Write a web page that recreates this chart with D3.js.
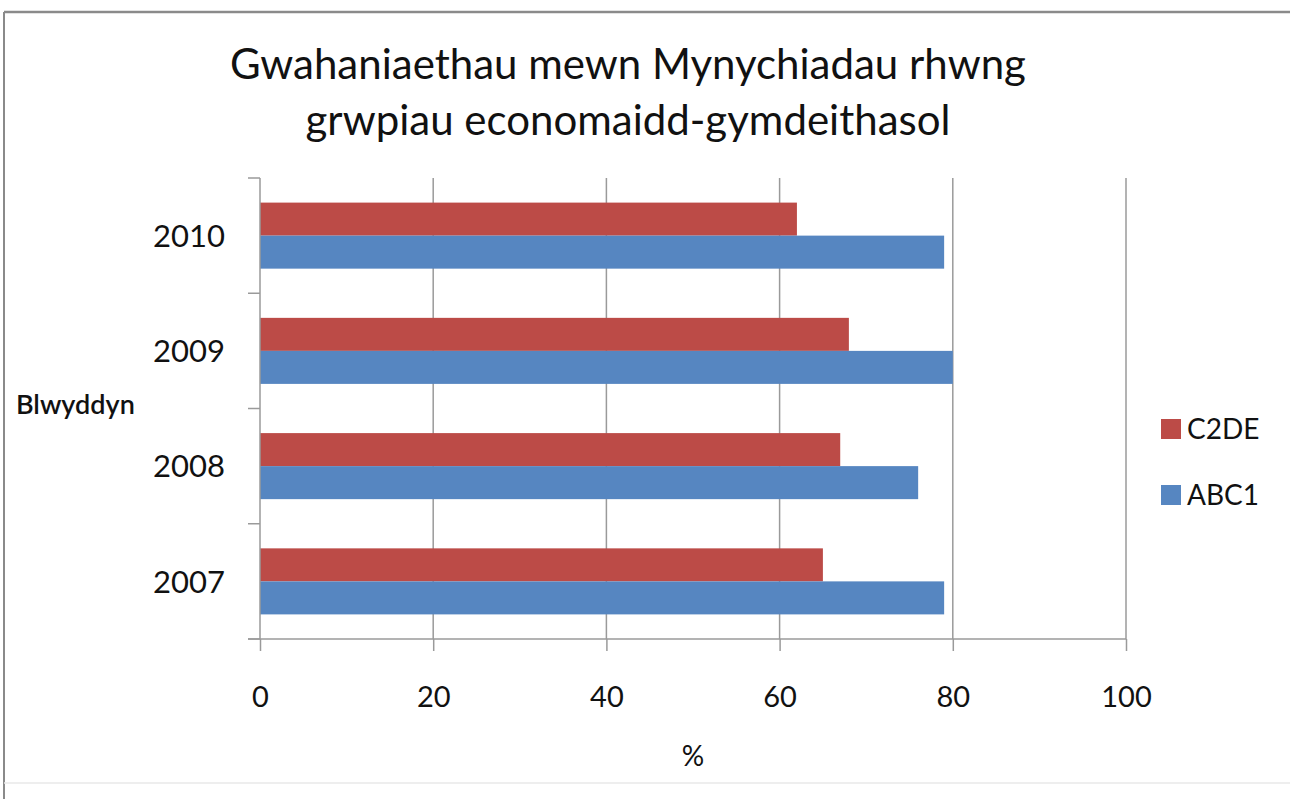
<!DOCTYPE html>
<html>
<head>
<meta charset="utf-8">
<script src="https://cdn.jsdelivr.net/npm/d3@7"></script>
<style>
  body { margin: 0; background: #fff; }
  text { font-family: Lato, "Open Sans", sans-serif; fill: #111; }
</style>
</head>
<body>
<script>
// chart data
var years = ["2010", "2009", "2008", "2007"];
var seriesNames = ["C2DE", "ABC1"];
var c2de = [62, 68, 67, 65];
var abc1 = [79, 80, 76, 79];
var xTicks = [0, 20, 40, 60, 80, 100];
var colors = ["#BC4B47", "#5686C1"];

var titleLines = ["Gwahaniaethau mewn Mynychiadau rhwng", "grwpiau economaidd-gymdeithasol"];

var W = 1290, H = 799;
var margin = {top: 178, right: 164, bottom: 160, left: 260},
    width = W - margin.left - margin.right,
    height = H - margin.top - margin.bottom;

var svg = d3.select("body").append("svg")
    .attr("width", W)
    .attr("height", H);

// outer chart frame (top + left, faint bottom)
svg.append("line").attr("x1", 4).attr("x2", W).attr("y1", 12).attr("y2", 12)
    .attr("stroke", "#8a8a8a").attr("stroke-width", 2.5);
svg.append("line").attr("x1", 4).attr("x2", 4).attr("y1", 12).attr("y2", H)
    .attr("stroke", "#8a8a8a").attr("stroke-width", 2);
svg.append("line").attr("x1", 4).attr("x2", W).attr("y1", 783).attr("y2", 783)
    .attr("stroke", "#e8e8e8").attr("stroke-width", 1.5);

// title
svg.append("g").selectAll("text")
    .data(titleLines)
  .enter().append("text")
    .attr("x", 628)
    .attr("y", function(d, i) { return 79 + i * 56; })
    .attr("text-anchor", "middle")
    .style("font-size", "42px")
    .text(function(d) { return d; });

var g = svg.append("g")
    .attr("transform", "translate(" + margin.left + "," + margin.top + ")");

var x = d3.scaleLinear().domain([0, 100]).range([0, width]);

var y = d3.scaleBand().domain(years).range([0, height])
    .paddingInner(0.427).paddingOuter(0.2135);

var ySub = d3.scaleBand().domain(seriesNames).range([0, y.bandwidth()]);

// gridlines
g.selectAll("line.grid")
    .data(xTicks.slice(1))
  .enter().append("line")
    .attr("class", "grid")
    .attr("x1", function(d) { return x(d); })
    .attr("x2", function(d) { return x(d); })
    .attr("y1", 0)
    .attr("y2", height)
    .attr("stroke", "#9a9a9a")
    .attr("stroke-width", 1.5);

// bars
var rows = years.map(function(yr, i) {
  return {year: yr, vals: [{name: "C2DE", v: c2de[i]}, {name: "ABC1", v: abc1[i]}]};
});

var grp = g.selectAll("g.year")
    .data(rows)
  .enter().append("g")
    .attr("class", "year")
    .attr("transform", function(d) { return "translate(0," + y(d.year) + ")"; });

grp.selectAll("rect")
    .data(function(d) { return d.vals; })
  .enter().append("rect")
    .attr("x", 0)
    .attr("y", function(d) { return ySub(d.name); })
    .attr("height", ySub.bandwidth())
    .attr("width", function(d) { return x(d.v); })
    .attr("fill", function(d, i) { return colors[i]; });

// x axis
var xAxis = g.append("g")
    .attr("transform", "translate(0," + height + ")")
    .call(d3.axisBottom(x).tickValues(xTicks).tickSize(12).tickPadding(35));
xAxis.select(".domain").attr("stroke", "#9a9a9a").attr("stroke-width", 1.5)
    .attr("d", "M-12,0H" + width);
xAxis.selectAll(".tick line").attr("stroke", "#9a9a9a").attr("stroke-width", 1.5);
xAxis.selectAll(".tick text").style("font-size", "29px").attr("fill", "#111");

// y axis, ticks between categories
var yAxis = g.append("g");
yAxis.append("line").attr("x1", 0).attr("x2", 0).attr("y1", 0).attr("y2", height)
    .attr("stroke", "#9a9a9a").attr("stroke-width", 1.5);
yAxis.selectAll("line.tk")
    .data(d3.range(years.length + 1))
  .enter().append("line")
    .attr("class", "tk")
    .attr("x1", -12).attr("x2", 0)
    .attr("y1", function(d) { return d * height / years.length; })
    .attr("y2", function(d) { return d * height / years.length; })
    .attr("stroke", "#9a9a9a").attr("stroke-width", 1.5);
yAxis.selectAll("text")
    .data(years)
  .enter().append("text")
    .attr("x", -35)
    .attr("y", function(d) { return y(d) + y.bandwidth() / 2; })
    .attr("dy", "0.36em")
    .attr("text-anchor", "end")
    .style("font-size", "31px")
    .text(function(d) { return d; });

// axis titles
svg.append("text")
    .attr("x", 16).attr("y", 414)
    .style("font-size", "27px")
    .style("font-weight", "600")
    .text("Blwyddyn");

svg.append("text")
    .attr("x", margin.left + width / 2).attr("y", 766)
    .attr("text-anchor", "middle")
    .style("font-size", "28px")
    .text("%");

// legend
var leg = svg.append("g").selectAll("g")
    .data(seriesNames)
  .enter().append("g")
    .attr("transform", function(d, i) { return "translate(1161," + (419 + i * 66) + ")"; });
leg.append("rect").attr("width", 20).attr("height", 20)
    .attr("fill", function(d, i) { return colors[i]; });
leg.append("text").attr("x", 26).attr("y", 20)
    .style("font-size", "28px")
    .text(function(d) { return d; });
</script>
</body>
</html>
